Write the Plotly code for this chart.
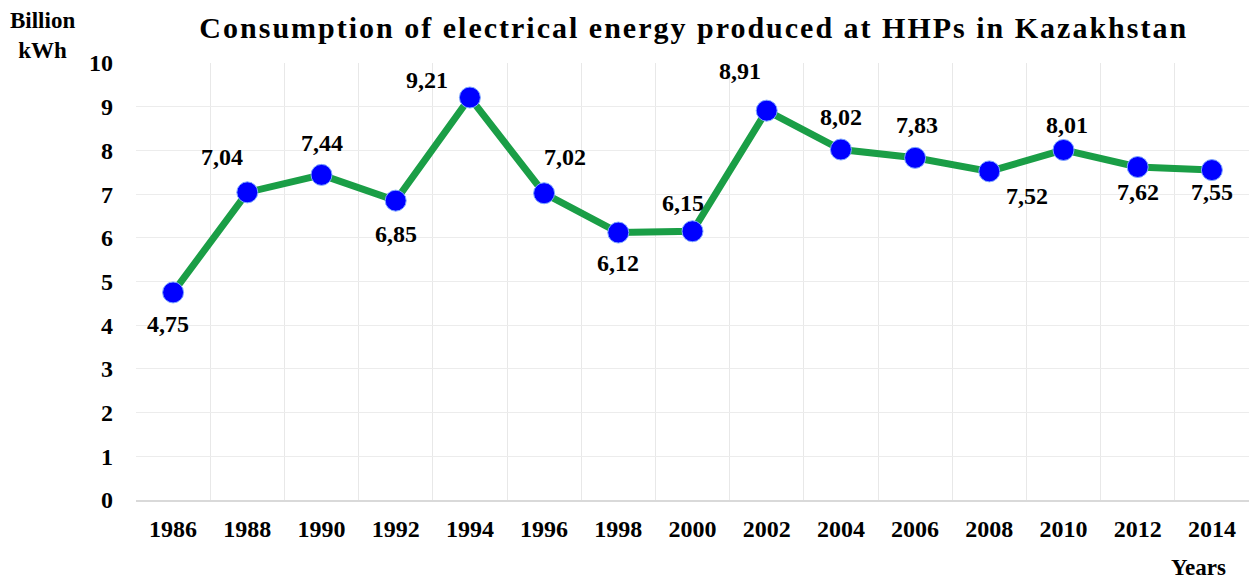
import plotly.graph_objects as go

years = [1986, 1988, 1990, 1992, 1994, 1996, 1998, 2000,
         2002, 2004, 2006, 2008, 2010, 2012, 2014]
values = [4.75, 7.04, 7.44, 6.85, 9.21, 7.02, 6.12, 6.15,
          8.91, 8.02, 7.83, 7.52, 8.01, 7.62, 7.55]
labels = ["4,75", "7,04", "7,44", "6,85", "9,21", "7,02", "6,12", "6,15",
          "8,91", "8,02", "7,83", "7,52", "8,01", "7,62", "7,55"]
yticks = list(range(0, 11))
# label offsets in pixels (style)
dx = [-5, -25, 0, 0, -43, 21, 0, -10, -27, 0, 2, 38, 3, 0, 0]
dy = [-32, 35, 32, -33, 18, 36, -30, 28, 40, 33, 33, -25, 25, -25, -22]

FONT = "Liberation Serif"
x_bounds = [y - 1 for y in years] + [years[-1] + 1]

fig = go.Figure()
fig.add_trace(go.Scatter(
    x=years, y=values, mode="lines+markers",
    line=dict(color="#1a9e46", width=7),
    marker=dict(color="#0000ff", size=21, line=dict(color="#7fa8ff", width=1)),
    hoverinfo="skip", showlegend=False,
))
for x, y, t, ox, oy in zip(years, values, labels, dx, dy):
    fig.add_annotation(x=x, y=y, text=t, showarrow=False, xshift=ox, yshift=oy,
                       font=dict(family=FONT, size=24, color="black", weight="bold"))

fig.update_layout(
    width=1250, height=580,
    margin=dict(l=136, r=1, t=63, b=80),
    paper_bgcolor="white", plot_bgcolor="white",
    title=dict(text="Consumption of electrical energy produced at HHPs in Kazakhstan",
               x=0.555, xanchor="center", y=0.953, yanchor="middle",
               font=dict(family=FONT, size=30, color="black", weight="bold")),
    xaxis=dict(range=[x_bounds[0], x_bounds[-1]], tickmode="array", tickvals=years,
               ticktext=[str(y) for y in years], showgrid=False,
               minor=dict(tickmode="array", tickvals=x_bounds, showgrid=True,
                          gridcolor="#e8e8e8", gridwidth=1, ticks=""),
               ticks="", showline=True,
               linecolor="#d9d9d9", linewidth=2, zeroline=False,
               tickfont=dict(family=FONT, size=24, color="black", weight="bold"),
               ticklabelstandoff=6),
    yaxis=dict(range=[0, 10], tickmode="array", tickvals=yticks, showgrid=True,
               gridcolor="#ececec", gridwidth=1, zeroline=False, showline=False,
               ticks="",
               tickfont=dict(family=FONT, size=24, color="black", weight="bold"),
               ticklabelstandoff=22),
)
fig.add_annotation(xref="paper", yref="paper", x=-0.084, y=1.064, xanchor="center",
                   yanchor="middle", showarrow=False, text="Billion<br>kWh", align="center",
                   font=dict(family=FONT, size=23, color="black", weight="bold"))
fig.add_annotation(xref="paper", yref="paper", x=0.955, y=-0.155, xanchor="center",
                   yanchor="middle", showarrow=False, text="Years",
                   font=dict(family=FONT, size=23, color="black", weight="bold"))

fig.write_html("out.html", post_script=(
    "var t=document.querySelector('.gtitle');"
    "if(t){t.style.letterSpacing='2px';}"
))
